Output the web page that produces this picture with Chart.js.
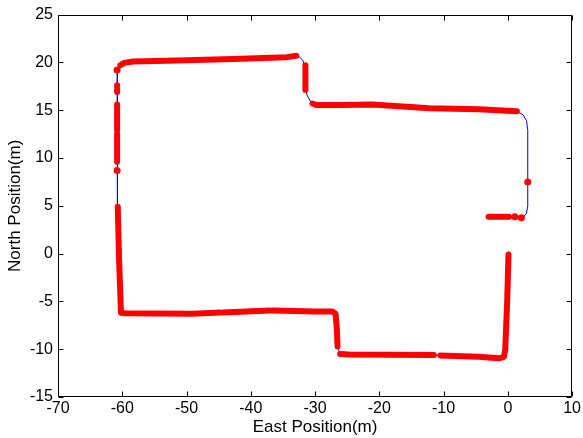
<!DOCTYPE html>
<html>
<head>
<meta charset="utf-8">
<script src="https://cdn.jsdelivr.net/npm/chart.js@4.4.0/dist/chart.umd.min.js"></script>
<style>
  html, body { margin: 0; padding: 0; background: #fff; }
  #wrap { width: 583px; height: 438px; }
</style>
</head>
<body>
<div id="wrap"><canvas id="trackChart" width="583" height="438"></canvas></div>
<script>
// ==========================================
// Datos (East / North, metros)
// ==========================================
const xTicks = [-70, -60, -50, -40, -30, -20, -10, 0, 10];
const yTicks = [-15, -10, -5, 0, 5, 10, 15, 20, 25];

// trayectoria completa (linea azul)
const pathEast = [-3.0, 1.5, 2.4, 2.9, 3.1, 3.1, 3.1, 2.9, 2.4, 1.4, -4.5, -12.2, -21.1, -26, -29.8, -30.6, -31.2, -31.5, -31.5, -31.9, -32.4, -33.0, -34.4, -42.8, -51.5, -58.3, -59.7, -60.4, -60.8, -60.8, -60.7, -60.5, -60.2, -59.5, -49, -44.6, -36.8, -30, -27.3, -26.8, -26.6, -26.4, -26.1, -24.7, -11.8, -4.5, -1.4, -0.6, -0.4, -0.1, 0.1];
const pathNorth = [3.85, 3.8, 3.8, 4.2, 5.0, 7.5, 12.9, 13.9, 14.5, 14.9, 15.1, 15.2, 15.6, 15.55, 15.55, 15.8, 16.5, 17.2, 19.4, 20.2, 20.55, 20.7, 20.55, 20.35, 20.2, 20.1, 19.95, 19.6, 19.2, 9, 4.9, -0.5, -6.2, -6.25, -6.3, -6.1, -5.95, -6.05, -6.05, -6.3, -8, -10.0, -10.5, -10.55, -10.6, -10.8, -10.95, -10.8, -10.0, -5, -0.1];

// tramos cubiertos por marcadores rojos (null = hueco)
const markEast = [-3.0, 0.2, null,
  1.4, -4.5, -12.2, -21.1, -26, -29.8, -30.4, null,
  -31.5, -31.5, null,
  -32.9, -34.4, -42.8, -51.5, -58.3, -59.7, -60.3, null,
  -60.8, -60.8, null, -60.8, -60.8, null, -60.8, -60.8, null,
  -60.7, -60.5, -60.2, -59.5, -49, -44.8, null,
  -44.3, -37.0, null,
  -36.6, -30, -27.3, -26.8, -26.6, -26.5, null,
  -26.1, -24.7, -11.5, null,
  -10.5, -4.5, -1.4, -0.6, -0.4, -0.1, 0.1];
const markNorth = [3.85, 3.85, null,
  14.9, 15.1, 15.2, 15.6, 15.55, 15.55, 15.7, null,
  19.7, 17.1, null,
  20.7, 20.55, 20.35, 20.2, 20.1, 19.95, 19.7, null,
  17.6, 16.9, null, 15.6, 12.9, null, 12.5, 9.6, null,
  4.9, -0.5, -6.2, -6.25, -6.3, -6.15, null,
  -6.15, -5.95, null,
  -5.95, -6.05, -6.05, -6.3, -8, -9.7, null,
  -10.5, -10.55, -10.6, null,
  -10.65, -10.8, -10.95, -10.8, -10.0, -5, -0.1];

// marcadores sueltos
const dotEast = [1.1, 2.1, 3.1, -60.8, -60.8];
const dotNorth = [3.85, 3.75, 7.5, 19.2, 8.7];

const toXY = (xs, ys) => xs.map((v, i) => ({ x: v, y: ys[i] }));

// ==========================================
// Caja con marcas hacia adentro (estilo MATLAB)
// ==========================================
const boxTicks = {
  id: 'boxTicks',
  afterDraw(chart) {
    const { ctx, chartArea: a, scales: { x, y } } = chart;
    const L = Math.round(a.left) + 0.5, R = Math.round(a.right) - 0.5;
    const T = Math.round(a.top) + 0.5, B = Math.round(a.bottom) - 0.5;
    const len = 5;
    ctx.save();
    ctx.strokeStyle = '#000';
    ctx.lineWidth = 1;
    ctx.beginPath();
    ctx.rect(L, T, R - L, B - T);
    xTicks.forEach(v => {
      const px = Math.round(x.getPixelForValue(v)) + 0.5;
      ctx.moveTo(px, B); ctx.lineTo(px, B - len);
      ctx.moveTo(px, T); ctx.lineTo(px, T + len);
    });
    yTicks.forEach(v => {
      const py = Math.round(y.getPixelForValue(v)) + 0.5;
      ctx.moveTo(L, py); ctx.lineTo(L + len, py);
      ctx.moveTo(R, py); ctx.lineTo(R - len, py);
    });
    ctx.stroke();
    ctx.restore();
  }
};

const font = { family: '"Liberation Sans", Arial, Helvetica, sans-serif', size: 16 };
const titleFont = { family: '"Liberation Sans", Arial, Helvetica, sans-serif', size: 17 };

new Chart(document.getElementById('trackChart').getContext('2d'), {
  type: 'scatter',
  data: {
    datasets: [
      {
        label: 'dots',
        data: toXY(dotEast, dotNorth),
        showLine: false,
        pointRadius: 3.5,
        pointBackgroundColor: '#ff0000',
        pointBorderWidth: 0,
        order: 0
      },
      {
        label: 'markers',
        data: toXY(markEast, markNorth),
        showLine: true,
        spanGaps: false,
        borderColor: '#ff0000',
        borderWidth: 6,
        borderCapStyle: 'round',
        borderJoinStyle: 'round',
        pointRadius: 0,
        order: 1
      },
      {
        label: 'path',
        data: toXY(pathEast, pathNorth),
        showLine: true,
        borderColor: '#0000ff',
        borderWidth: 1,
        pointRadius: 0,
        tension: 0,
        order: 2
      }
    ]
  },
  options: {
    responsive: false,
    animation: false,
    layout: { padding: { top: 12, right: 9, left: 0, bottom: 0 } },
    plugins: { legend: { display: false }, tooltip: { enabled: false } },
    scales: {
      x: {
        type: 'linear', min: -70, max: 10,
        afterBuildTicks: s => { s.ticks = xTicks.map(v => ({ value: v })); },
        afterFit: s => { s.height = 41; },
        grid: { display: false, drawTicks: false },
        border: { display: false },
        ticks: { font, color: '#000', padding: 2, maxRotation: 0, autoSkip: false },
        title: { display: true, text: 'East Position(m)', font: titleFont, color: '#000', padding: 0 }
      },
      y: {
        type: 'linear', min: -15, max: 25,
        afterBuildTicks: s => { s.ticks = yTicks.map(v => ({ value: v })); },
        afterFit: s => { s.width = 58; },
        grid: { display: false, drawTicks: false },
        border: { display: false },
        ticks: { font, color: '#000', padding: 5, autoSkip: false },
        title: { display: true, text: 'North Position(m)', font: titleFont, color: '#000', padding: { top: 5, bottom: 0 } }
      }
    }
  },
  plugins: [boxTicks]
});
</script>
</body>
</html>
